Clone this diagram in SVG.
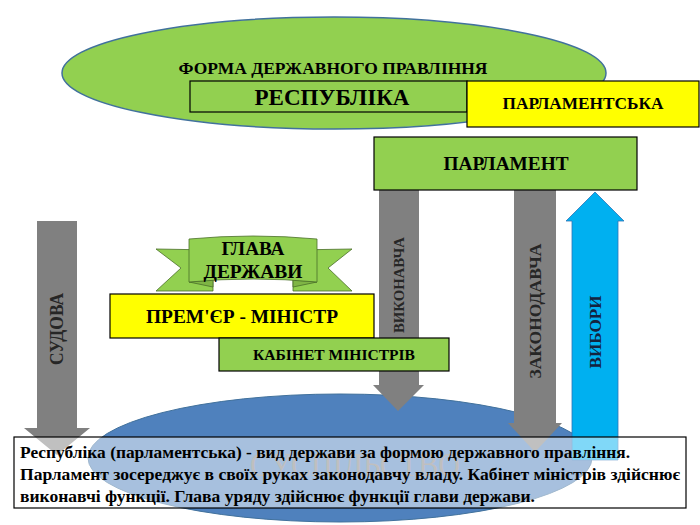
<svg xmlns="http://www.w3.org/2000/svg" width="700" height="525" viewBox="0 0 700 525">
<style>
.t{font-family:"Liberation Serif","DejaVu Serif","Times New Roman",serif;font-weight:bold;fill:#000}
.c{text-anchor:middle}
.g{fill:#92D050;stroke:#000;stroke-width:1.2}
.y{fill:#FFFF00;stroke:#000;stroke-width:1.2}
.ga{fill:#808080}
.lbl{font-family:"Liberation Serif","DejaVu Serif","Times New Roman",serif;font-weight:bold;fill:#262626;text-anchor:middle}
</style>
<rect width="700" height="525" fill="#fff"/>
<g id="forma">
<ellipse cx="334" cy="73" rx="272" ry="56" fill="#92D050" stroke="#41719C" stroke-width="1.5"/>
<text class="t c" x="333" y="74" font-size="17" textLength="309" lengthAdjust="spacingAndGlyphs">ФОРМА ДЕРЖАВНОГО ПРАВЛІННЯ</text>
</g>
<g id="respublika">
<rect class="g" x="190" y="81" width="277" height="31"/>
<text class="t c" x="332" y="105" font-size="23" textLength="155" lengthAdjust="spacingAndGlyphs">РЕСПУБЛІКА</text>
</g>
<g id="parlamentska">
<rect class="y" x="467" y="81" width="232" height="46"/>
<text class="t c" x="583" y="109" font-size="17" textLength="161" lengthAdjust="spacingAndGlyphs">ПАРЛАМЕНТСЬКА</text>
</g>
<g id="suspilstvo">
<ellipse cx="340" cy="458" rx="252" ry="64" fill="#4F81BD" stroke="#41719C" stroke-width="1"/>
<text x="355" y="476" font-family="Liberation Serif,DejaVu Serif,serif" font-size="34" fill="#7F7F7F" text-anchor="middle" textLength="210" lengthAdjust="spacingAndGlyphs">СУСПІЛЬСТВО</text>
</g>
<g id="connectors">
<g id="arrow-sudova">
<polygon class="ga" points="37,221 77,221 77,428 90,428 57,455 24,428 37,428"/>
<text class="lbl" font-size="18" transform="translate(63,329) rotate(-90)" textLength="72" lengthAdjust="spacingAndGlyphs">СУДОВА</text>
</g>
<g id="arrow-vykonavcha">
<polygon class="ga" points="379,190 419,190 419,385 424,385 398,411 373,385 379,385"/>
<text class="lbl" font-size="15" transform="translate(404,285) rotate(-90)" textLength="96" lengthAdjust="spacingAndGlyphs">ВИКОНАВЧА</text>
</g>
<g id="arrow-zakonodavcha">
<polygon class="ga" points="514,190 556,190 556,423 562,423 535,452 508,423 514,423"/>
<text class="lbl" font-size="17" transform="translate(541,311) rotate(-90)" textLength="135" lengthAdjust="spacingAndGlyphs">ЗАКОНОДАВЧА</text>
</g>
<g id="arrow-vybory">
<polygon points="572,460 618,460 618,221 624,221 595,192 566,221 572,221" fill="#00B0F0" stroke="#2E75B6" stroke-width="0.8"/>
<text class="lbl" font-size="17" transform="translate(601,332) rotate(-90)" style="fill:#14233f" textLength="73" lengthAdjust="spacingAndGlyphs">ВИБОРИ</text>
</g>
</g>
<g id="parlament">
<rect class="g" x="374" y="137" width="263" height="53"/>
<text class="t c" x="506" y="170" font-size="19" textLength="125" lengthAdjust="spacingAndGlyphs">ПАРЛАМЕНТ</text>
</g>
<g id="glava">
<polygon points="213,250 156,249 181,268 156,291 213,291" fill="#92D050" stroke="#4a6e2a" stroke-width="0.8"/>
<polygon points="293,250 352,249 328,268 352,291 293,291" fill="#92D050" stroke="#4a6e2a" stroke-width="0.8"/>
<polygon points="189,282 213,287 213,280" fill="#7fb545" stroke="#4a6e2a" stroke-width="0.8"/>
<polygon points="317,282 293,287 293,280" fill="#7fb545" stroke="#4a6e2a" stroke-width="0.8"/>
<path d="M189,239 Q253,233 317,239 L317,282 Q253,276 189,282 Z" fill="#92D050" stroke="#4a6e2a" stroke-width="0.8"/>
<text class="t c" x="253" y="255" font-size="19" textLength="63" lengthAdjust="spacingAndGlyphs">ГЛАВА</text>
<text class="t c" x="253" y="278" font-size="19" textLength="99" lengthAdjust="spacingAndGlyphs">ДЕРЖАВИ</text>
</g>
<g id="premier">
<rect class="y" x="110" y="294" width="264" height="44"/>
<text class="t c" x="242" y="323" font-size="19" textLength="192" lengthAdjust="spacingAndGlyphs">ПРЕМ'ЄР - МІНІСТР</text>
</g>
<g id="kabinet">
<rect class="g" x="219" y="338" width="230" height="33"/>
<text class="t c" x="334" y="360" font-size="15" textLength="162" lengthAdjust="spacingAndGlyphs">КАБІНЕТ МІНІСТРІВ</text>
</g>
<g id="description">
<rect x="14" y="437" width="672" height="71" fill="#fff" fill-opacity="0.5" stroke="#000" stroke-width="1.2"/>
<text class="t" x="20" y="458" font-size="16.5" textLength="610" lengthAdjust="spacingAndGlyphs">Республіка (парламентська) - вид держави за формою державного правління.</text>
<text class="t" x="20" y="480" font-size="16.5" textLength="660" lengthAdjust="spacingAndGlyphs">Парламент зосереджує в своїх руках законодавчу владу. Кабінет міністрів здійснює</text>
<text class="t" x="20" y="502" font-size="16.5" textLength="515" lengthAdjust="spacingAndGlyphs">виконавчі функції. Глава уряду здійснює функції глави держави.</text>
</g>
</svg>
